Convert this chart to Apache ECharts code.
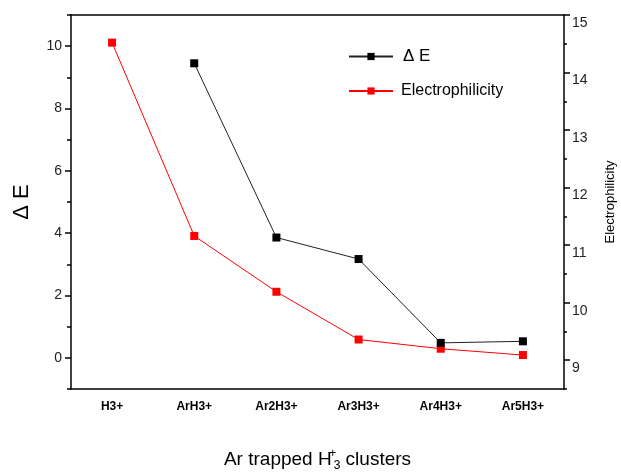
<!DOCTYPE html>
<html>
<head>
<meta charset="utf-8">
<script src="https://cdn.jsdelivr.net/npm/echarts@6/dist/echarts.min.js"></script>
<style>
html,body{margin:0;padding:0;background:#fff;}
#chart{width:621px;height:474px;}
</style>
</head>
<body>
<div id="chart"></div>
<script>
var categories = ['H3+', 'ArH3+', 'Ar2H3+', 'Ar3H3+', 'Ar4H3+', 'Ar5H3+'];
var deltaE = ['-', 9.45, 3.86, 3.17, 0.48, 0.53];
var electrophilicity = [14.52, 11.16, 10.19, 9.36, 9.20, 9.09];
var leftMajorTicks = [0, 2, 4, 6, 8, 10];
var leftMinorTicks = [-1, 1, 3, 5, 7, 9, 11];
var rightMajorTicks = [9, 10, 11, 12, 13, 14, 15];
var rightMinorTicks = [8.5, 9.5, 10.5, 11.5, 12.5, 13.5, 14.5];

var FONT = 'Liberation Sans, Arial, sans-serif';
var lineStyle = {color: '#000', width: 1.5};

var chart = echarts.init(document.getElementById('chart'), null, {renderer: 'canvas'});
chart.setOption({
  animation: false,
  backgroundColor: '#fff',
  textStyle: {fontFamily: FONT},
  grid: {left: 71, right: 57, top: 15, bottom: 85, containLabel: false, outerBoundsMode: 'none'},
  legend: {
    orient: 'vertical',
    left: 348,
    top: 48,
    padding: 0,
    itemWidth: 44,
    itemHeight: 9,
    itemGap: 18,
    textStyle: {fontFamily: FONT, color: '#000', fontSize: 16, padding: [0, 0, 0, 3]},
    data: [
      {name: 'Δ E', textStyle: {fontSize: 17, padding: [0, 0, 0, 5]}},
      {name: 'Electrophilicity', textStyle: {fontSize: 16}}
    ]
  },
  xAxis: [
    {
      type: 'category', data: categories, position: 'bottom', boundaryGap: true,
      axisLine: {onZero: false, lineStyle: lineStyle},
      axisTick: {alignWithLabel: true, length: 6, lineStyle: {color: '#000', width: 1.5}},
      axisLabel: {color: '#000', fontSize: 12, fontWeight: 'bold', margin: 12, fontFamily: FONT},
      splitLine: {show: false},
      name: 'Ar trapped H{sp|+}{sb|3} clusters',
      nameLocation: 'middle',
      nameGap: 59,
      nameTextStyle: {
        fontSize: 19, color: '#000', fontFamily: FONT,
        rich: {
          sp: {fontSize: 12, width: 0, verticalAlign: 'top', padding: [0, 0, 12, 1], color: '#000', fontFamily: FONT},
          sb: {fontSize: 12, verticalAlign: 'bottom', padding: [8, 0, 0, 1], color: '#000', fontFamily: FONT}
        }
      }
    },
    {
      type: 'category', data: categories, position: 'bottom', boundaryGap: true,
      axisLine: {show: false, onZero: false},
      axisTick: {length: 3, lineStyle: {color: '#000', width: 1.5}},
      axisLabel: {show: false},
      splitLine: {show: false}
    },
    {
      type: 'category', data: categories, position: 'top', boundaryGap: true,
      axisLine: {onZero: false, lineStyle: lineStyle},
      axisTick: {length: 2, lineStyle: {color: '#000', width: 1}},
      axisLabel: {show: false},
      splitLine: {show: false}
    }
  ],
  yAxis: [
    {
      type: 'value', position: 'left', min: -1, max: 11, interval: 1,
      axisLine: {show: true, onZero: false, lineStyle: lineStyle},
      axisTick: {show: true, length: 6, customValues: leftMajorTicks, lineStyle: {color: '#000', width: 1.5}},
      axisLabel: {color: '#222', fontSize: 14, margin: 9, customValues: leftMajorTicks, fontFamily: FONT},
      splitLine: {show: false},
      name: 'Δ E',
      nameLocation: 'middle',
      nameRotate: 90,
      nameGap: 38,
      nameTextStyle: {fontSize: 22, color: '#000', fontFamily: FONT}
    },
    {
      type: 'value', position: 'right', min: 8.5, max: 15, interval: 0.5,
      axisLine: {show: true, onZero: false, lineStyle: lineStyle},
      axisTick: {show: true, length: 6, customValues: rightMajorTicks, lineStyle: {color: '#000', width: 1.5}},
      axisLabel: {color: '#222', fontSize: 14, margin: 8, verticalAlign: 'top', padding: [1, 0, 0, 0], customValues: rightMajorTicks, fontFamily: FONT},
      splitLine: {show: false},
      name: 'Electrophilicity',
      nameLocation: 'middle',
      nameRotate: 90,
      nameGap: 40,
      nameTextStyle: {fontSize: 13, color: '#000', fontFamily: FONT}
    },
    {
      type: 'value', position: 'left', min: -1, max: 11, interval: 1,
      axisLine: {show: false},
      axisTick: {show: true, length: 4, customValues: leftMinorTicks, lineStyle: {color: '#000', width: 1.5}},
      axisLabel: {show: false},
      splitLine: {show: false}
    },
    {
      type: 'value', position: 'right', min: 8.5, max: 15, interval: 0.5,
      axisLine: {show: false},
      axisTick: {show: true, length: 3, customValues: rightMinorTicks, lineStyle: {color: '#000', width: 1.5}},
      axisLabel: {show: false},
      splitLine: {show: false}
    }
  ],
  series: [
    {
      name: 'Δ E', type: 'line', xAxisIndex: 0, yAxisIndex: 0,
      data: deltaE,
      symbol: 'rect', symbolSize: 8,
      itemStyle: {color: '#000'},
      lineStyle: {color: '#222', width: 1},
      z: 3
    },
    {
      name: 'Electrophilicity', type: 'line', xAxisIndex: 0, yAxisIndex: 1,
      data: electrophilicity,
      symbol: 'rect', symbolSize: 8,
      itemStyle: {color: '#ff0000'},
      lineStyle: {color: '#ff0000', width: 1},
      z: 2
    }
  ]
});
</script>
</body>
</html>
